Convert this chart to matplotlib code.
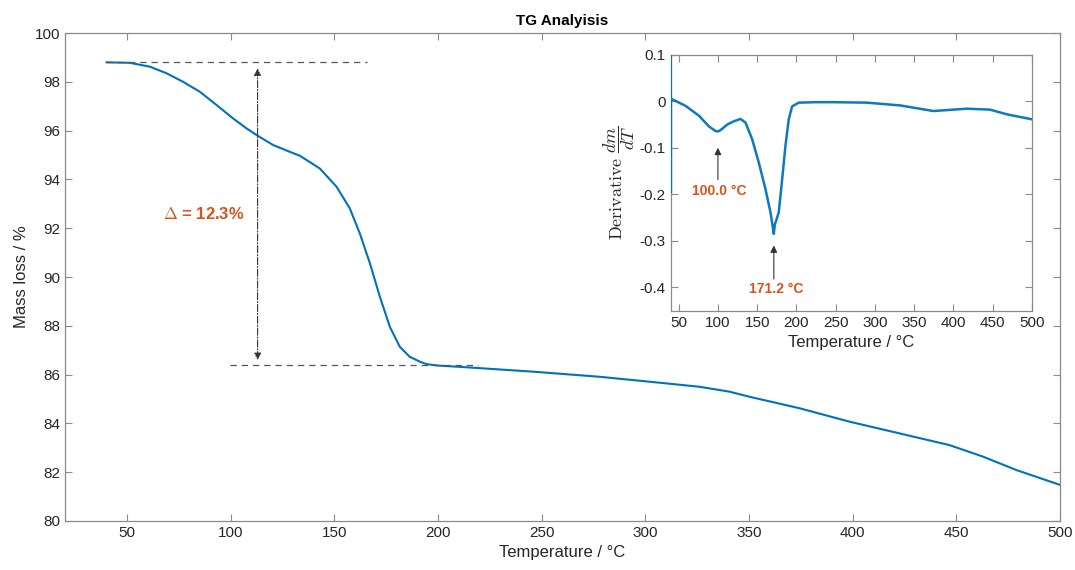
import matplotlib.pyplot as plt

plt.rcParams['font.family'] = ['Liberation Sans', 'DejaVu Sans']
plt.rcParams['mathtext.fontset'] = 'cm'

# TG curve (temperature in °C, mass in %)
temp = [40.1, 51.3, 61.0, 69.0, 77.0, 85.1, 93.1, 101.1, 107.6, 112.4, 120.4,
        127.0, 133.3, 142.9, 151.0, 157.4, 162.2, 167.1, 171.9, 176.7, 181.5,
        186.3, 191.2, 194.4, 200.0, 213.7, 245.8, 278.0, 310.1, 326.2, 340.6,
        350.3, 374.4, 398.5, 422.6, 446.7, 462.8, 478.9, 500.0]
mass = [98.80, 98.78, 98.62, 98.35, 98.00, 97.59, 97.05, 96.50, 96.09, 95.82, 95.41,
        95.18, 94.97, 94.45, 93.70, 92.81, 91.79, 90.56, 89.19, 87.96, 87.14,
        86.73, 86.53, 86.43, 86.37, 86.30, 86.12, 85.91, 85.64, 85.50, 85.30,
        85.09, 84.62, 84.07, 83.59, 83.11, 82.64, 82.09, 81.48]

# derivative curve for the inset
d_temp = [40.0, 40.05, 40.1, 42.0, 58.9, 75.8, 88.5, 97.0, 100.0, 103.4, 111.9, 120.3,
          128.8, 135.2, 143.7, 152.1, 160.6, 167.0, 171.2, 172.5, 177.5, 181.8, 186.0,
          190.2, 194.5, 202.9, 224.1, 247.4, 289.9, 332.2, 374.5, 416.9, 446.6, 467.8,
          497.4, 500.0]
d_val = [0.15, -0.196, 0.006, 0.004, -0.010, -0.031, -0.054, -0.064, -0.065, -0.062,
         -0.050, -0.043, -0.038, -0.046, -0.082, -0.132, -0.189, -0.239, -0.285, -0.265,
         -0.239, -0.168, -0.096, -0.039, -0.011, -0.003, -0.002, -0.002, -0.003, -0.009,
         -0.021, -0.016, -0.018, -0.028, -0.038, -0.039]

peaks = [100.0, 171.2]
peak_vals = [-0.1, -0.31]
mass_start, mass_end = 98.8, 86.4

blue = '#0072BD'
orange = '#D95319'
spine = '#8a8a8a'
txt = '#262626'


def style(ax):
    for s in ax.spines.values():
        s.set_color(spine)
        s.set_linewidth(0.9)
    ax.tick_params(direction='in', top=True, right=True, color=spine,
                   labelcolor=txt, labelsize=11, length=5)


fig = plt.figure(figsize=(10.75, 5.70), dpi=100)
ax = fig.add_axes([0.0605, 0.086, 0.9255, 0.856])
ax.plot(temp, mass, color=blue, lw=1.5)
ax.set_xlim(20, 500)
ax.set_ylim(80, 100)
ax.set_xticks(range(50, 501, 50))
ax.set_yticks(range(80, 101, 2))
style(ax)
ax.set_xlabel('Temperature / °C', fontsize=12, color=txt)
ax.set_ylabel('Mass loss / %', fontsize=12, color=txt)
ax.set_title('TG Analyisis', fontsize=11, fontweight='bold', color='black', pad=6)

ax.plot([40, 165.5], [mass_start, mass_start], ls=(0, (5, 4)), color='#555555', lw=0.9)
ax.plot([99.6, 219], [mass_end, mass_end], ls=(0, (5, 4)), color='#555555', lw=0.9)
ax.annotate('', xy=(112.9, 98.55), xytext=(112.9, 86.6),
            arrowprops=dict(arrowstyle='<|-|>', ls='-.', color='#333333', lw=0.8,
                            mutation_scale=10, shrinkA=0, shrinkB=0))
ax.text(86.7, 92.6, r'$\Delta$ = 12.3%', color=orange, fontsize=12, fontweight='bold',
        ha='center', va='center')

ins = fig.add_axes([0.624, 0.455, 0.336, 0.449])
ins.plot(d_temp, d_val, color=blue, lw=1.8, alpha=0.95, zorder=3)
ins.set_xlim(40, 500)
ins.set_ylim(-0.45, 0.1)
ins.set_xticks(range(50, 501, 50))
ins.set_yticks([-0.4, -0.3, -0.2, -0.1, 0, 0.1])
ins.set_yticklabels(['-0.4', '-0.3', '-0.2', '-0.1', '0', '0.1'])
style(ins)
ins.set_xlabel('Temperature / °C', fontsize=12, color=txt)
ins.set_ylabel(r'$\mathrm{Derivative}\ \dfrac{dm}{dT}$', fontsize=13, color=txt, labelpad=2)

labels = ['100.0 °C', '171.2 °C']
tails = [-0.168, -0.382]
text_pos = [(101.8, -0.193), (174, -0.404)]
for p, pv, t, lab, (tx, ty) in zip(peaks, peak_vals, tails, labels, text_pos):
    ins.annotate('', xy=(p, pv), xytext=(p, t),
                 arrowprops=dict(arrowstyle='-|>', color='#333333', lw=0.8,
                                 mutation_scale=10, shrinkA=0, shrinkB=0))
    ins.text(tx, ty, lab, color=orange, fontsize=10, fontweight='bold',
             ha='center', va='center')

fig.savefig('out.png', dpi=100)
